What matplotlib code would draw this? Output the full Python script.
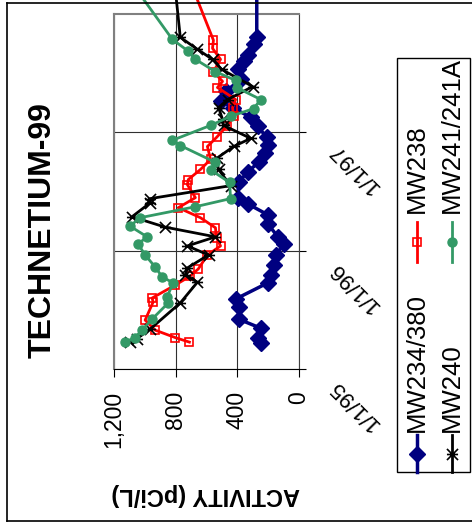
import matplotlib
matplotlib.use("Agg")
import matplotlib.pyplot as plt
import matplotlib.dates as mdates
from matplotlib.lines import Line2D
from matplotlib.path import Path
import pandas as pd

plt.rcParams["font.family"] = ["Liberation Sans", "DejaVu Sans"]

# ---- data (pCi/L) ----
mw234_dates = ["1995-03-21", "1995-04-08", "1995-05-07", "1995-06-04", "1995-07-11", "1995-08-05",
               "1995-09-24", "1995-10-18", "1995-11-18", "1995-12-19", "1996-01-22", "1996-02-13",
               "1996-03-24", "1996-04-21", "1996-05-25", "1996-06-13", "1996-07-30", "1996-09-01",
               "1996-09-30", "1996-10-30", "1996-11-24", "1996-12-16", "1997-01-19", "1997-02-16",
               "1997-03-18", "1997-04-06", "1997-05-07", "1997-06-13", "1997-07-14", "1997-08-08",
               "1997-08-27", "1997-09-30", "1997-10-21", "1998-04-17"]
mw234_vals = [248, 268, 248, 392, 392, 411, 202, 183, 163, 150, 98, 137, 202, 202, 333, 398, 392,
              333, 261, 222, 202, 209, 268, 313, 431, 509, 476, 378, 398, 359, 333, 294, 274, 274]

mw238_dates = ["1995-03-25", "1995-04-08", "1995-05-01", "1995-06-01", "1995-07-27", "1995-08-08",
               "1995-09-17", "1995-10-15", "1995-11-06", "1995-12-19", "1996-01-16", "1996-02-10",
               "1996-03-12", "1996-04-12", "1996-05-13", "1996-06-13", "1996-07-23", "1996-08-08",
               "1996-09-08", "1996-10-09", "1996-11-18", "1996-12-16", "1997-01-19", "1997-02-19",
               "1997-03-18", "1997-04-12", "1997-05-19", "1997-06-07", "1997-07-07", "1997-08-14",
               "1997-09-17", "1997-10-12", "1998-04-17"]
mw238_vals = [711, 803, 933, 998, 946, 953, 803, 705, 653, 594, 509, 535, 542, 639, 783, 672, 724,
              718, 639, 574, 594, 535, 470, 424, 431, 411, 529, 496, 555, 509, 561, 555, 711]

mw240_dates = ["1995-03-25", "1995-04-05", "1995-05-04", "1995-07-24", "1995-09-26", "1995-10-18",
               "1995-11-09", "1995-12-19", "1996-01-16", "1996-02-13", "1996-03-14", "1996-04-15",
               "1996-05-28", "1996-06-10", "1996-07-20", "1996-09-08", "1996-10-12", "1996-11-18",
               "1996-12-13", "1997-01-22", "1997-02-10", "1997-03-18", "1997-04-12", "1997-05-22",
               "1997-07-14", "1997-08-14", "1997-09-14", "1997-10-21", "1998-04-17"]
mw240_vals = [1096, 1051, 966, 770, 659, 737, 724, 587, 724, 542, 868, 1083, 966, 966, 444, 522,
              535, 424, 313, 489, 496, 522, 463, 300, 502, 561, 659, 770, 809]

mw241_dates = ["1995-03-25", "1995-04-08", "1995-05-01", "1995-06-04", "1995-07-24", "1995-08-12",
               "1995-09-24", "1995-10-12", "1995-11-12", "1995-12-19", "1996-01-22", "1996-02-13",
               "1996-03-17", "1996-04-12", "1996-05-16", "1996-06-10", "1996-07-30", "1996-09-05",
               "1996-09-30", "1996-11-21", "1996-12-07", "1997-01-22", "1997-02-19", "1997-03-15",
               "1997-04-12", "1997-05-19", "1997-06-10", "1997-07-07", "1997-08-14", "1997-09-08",
               "1997-10-15", "1998-04-17"]
mw241_vals = [1129, 1064, 1018, 953, 848, 855, 816, 887, 933, 998, 1044, 985, 1096, 1031, 672, 444,
              450, 568, 542, 770, 822, 574, 444, 294, 248, 405, 411, 542, 672, 718, 822, 1100]

value_ticks = [0, 400, 800, 1200]
value_labels = ["0", "400", "800", "1,200"]
date_ticks = ["1995-01-01", "1996-01-01", "1997-01-01"]
date_labels = ["1/1/95", "1/1/96", "1/1/97"]

# asterisk like excel's "*" marker (x with a bar)
star = Path([(-1, -1), (1, 1), (-1, 1), (1, -1), (-1, 0), (1, 0)],
            [Path.MOVETO, Path.LINETO] * 3)

series = [
    ("MW234/380", mw234_dates, mw234_vals, dict(color="#000080", lw=2.5, marker="D", ms=8,
                                                 mfc="#000080", mec="#000080")),
    ("MW238", mw238_dates, mw238_vals, dict(color="#FF0000", lw=2.0, marker="s", ms=5.5,
                                            mfc="none", mec="#FF0000", mew=1.2)),
    ("MW240", mw240_dates, mw240_vals, dict(color="black", lw=2.0, marker=star, ms=8,
                                            mec="black", mew=1.2)),
    ("MW241/241A", mw241_dates, mw241_vals, dict(color="#339966", lw=2.0, marker="o", ms=6.5,
                                                 mfc="#339966", mec="#339966")),
]

W, H = 472, 529
fig = plt.figure(figsize=(W / 100, H / 100), dpi=100)
ax = fig.add_axes([114 / W, 1 - 369 / H, 185 / W, 355 / H])

# chart is drawn turned a quarter turn: activity runs right->left, time runs upward
for name, d, v, kw in series:
    ax.plot(v, pd.to_datetime(d), clip_on=False, zorder=3, **kw)

ax.set_xlim(1200, 0)
ax.set_ylim(pd.Timestamp("1995-01-01"), pd.Timestamp("1998-01-01"))

ax.set_xticks(value_ticks)
ax.set_xticklabels(value_labels, rotation=90, va="top", ha="center", fontsize=16.5)
ax.tick_params(axis="x", direction="out", length=5.8, width=0.8, pad=10)

ax.yaxis.tick_right()
ax.set_yticks(pd.to_datetime(date_ticks))
ax.set_yticklabels([])
ax.tick_params(axis="y", direction="out", length=5, width=0.8)

for d, lab in zip(date_ticks, date_labels):
    ax.annotate(lab, xy=(1, mdates.date2num(pd.Timestamp(d))),
                xycoords=("axes fraction", "data"), xytext=(24, -10),
                textcoords="offset points", rotation=135, rotation_mode="anchor",
                ha="right", va="center", fontsize=16)

ax.grid(True, color="#303030", lw=0.8)
ax.set_axisbelow(True)
for s in ["left", "top"]:
    ax.spines[s].set_color("#808080")
    ax.spines[s].set_linewidth(1.5)
ax.spines["bottom"].set_color("black")
ax.spines["right"].set_color("#404040")

fig.text(43 / W, 1 - 230 / H, "TECHNETIUM-99", rotation=90, ha="center", va="center",
         fontsize=23, fontweight="bold")
fig.text(206 / W, 1 - 494 / H, "ACTIVITY (pCi/L)", rotation=180, ha="center", va="center",
         fontsize=17, fontweight="bold")

# legend, turned like the chart
fig.add_artist(plt.Rectangle((397 / W, 1 - 472 / H), 73 / W, 414 / H, transform=fig.transFigure,
                             fill=False, ec="black", lw=1))
leg_pos = [(416.5, 472, 435, 432), (416.5, 262, 222, 213), (452, 472, 435, 432), (452, 262, 222, 213)]
for (name, d, v, kw), (lx, y0, y1, ty) in zip(series, leg_pos):
    k = dict(kw)
    fig.add_artist(Line2D([lx / W, lx / W], [1 - y0 / H, 1 - y1 / H], transform=fig.transFigure,
                          color=k.pop("color"), lw=k.pop("lw"), **{kk: vv for kk, vv in k.items()
                                                                    if kk not in ("marker",)}))
    fig.add_artist(Line2D([lx / W], [1 - (y0 + y1) / 2 / H], transform=fig.transFigure,
                          color=kw["color"], lw=0, **{kk: vv for kk, vv in kw.items()
                                                      if kk not in ("color", "lw")}))
    fig.text(lx / W, 1 - ty / H, name, rotation=90, ha="center", va="bottom", fontsize=18.5)

# outer frame (right edge is cut off in the source)
for xs, ys in [([7, 7], [3, 521]), ([7, W], [3, 3]), ([7, W], [521, 521])]:
    fig.add_artist(Line2D([x / W for x in xs], [1 - y / H for y in ys], transform=fig.transFigure,
                          color="black", lw=1.2))

fig.savefig("out.png", dpi=100)
